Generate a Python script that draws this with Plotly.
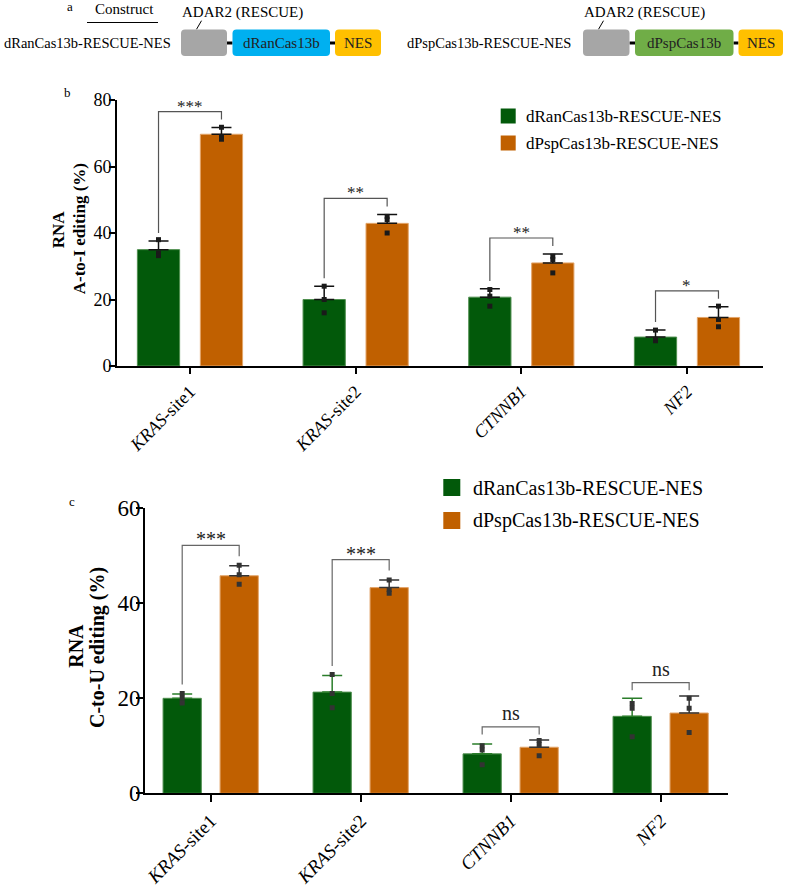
import plotly.graph_objects as go
import numpy as np

W, H = 787, 886
FONT = "Liberation Serif, Times New Roman, Times, serif"

# ---------------- data ----------------
categories = ["KRAS-site1", "KRAS-site2", "CTNNB1", "NF2"]
tick_labels = ["<i>KRAS</i>-site1", "<i>KRAS</i>-site2", "<i>CTNNB1</i>", "<i>NF2</i>"]
series_names = ["dRanCas13b-RESCUE-NES", "dPspCas13b-RESCUE-NES"]
cas_names = ["dRanCas13b", "dPspCas13b"]

# panel b : A-to-I editing (%)
b_ran_mean = [35.0, 20.0, 20.7, 8.7]
b_ran_sd = [2.6, 4.0, 2.5, 2.1]
b_ran_pts = [[38.0, 34.0, 33.2], [24.0, 20.0, 16.0], [23.0, 21.0, 18.0], [10.8, 8.0, 7.6]]
b_psp_mean = [69.7, 42.9, 31.0, 14.6]
b_psp_sd = [2.0, 2.7, 2.7, 3.2]
b_psp_pts = [[71.8, 69.0, 68.2], [45.0, 44.0, 40.0], [33.0, 32.0, 28.0], [18.0, 14.0, 11.8]]
b_sig = ["***", "**", "**", "*"]
b_yticks = [0, 20, 40, 60, 80]

# panel c : C-to-U editing (%)
c_ran_mean = [20.0, 21.3, 8.3, 16.2]
c_ran_sd = [0.9, 3.5, 2.1, 3.8]
c_ran_pts = [[21.0, 20.0, 19.0], [25.0, 21.0, 18.0], [10.0, 9.1, 6.0], [18.9, 17.9, 11.9]]
c_psp_mean = [45.8, 43.3, 9.7, 16.9]
c_psp_sd = [2.1, 1.6, 1.5, 3.6]
c_psp_pts = [[48.0, 46.0, 44.0], [44.9, 42.9, 42.1], [11.1, 10.2, 7.9], [20.0, 17.9, 12.8]]
c_sig = ["***", "***", "ns", "ns"]
c_yticks = [0, 20, 40, 60]

# ---------------- style ----------------
GREEN = "#02590a"
ORANGE = "#c06000"
GREEN_EDGE = "#4f8f4f"
ORANGE_EDGE = "#e3a56a"
OFF = 0.19
BW = 0.255


def px(x):
    return x / W


def py(y):
    return 1 - y / H


fig = go.Figure()
idx = np.arange(len(categories))
shapes = []
annotations = []


def add_panel(xa, ya, ran_mean, ran_sd, ran_pts, psp_mean, psp_sd, psp_pts, sig,
              err_cols, pt_col, br_col, gap, rise, gap_ns, rise_ns, sig_size, star_shift, ns_shift):
    for k, (mean, sd, pts, col, edge, ec, off) in enumerate([
        (ran_mean, ran_sd, ran_pts, GREEN, GREEN_EDGE, err_cols[0], -OFF),
        (psp_mean, psp_sd, psp_pts, ORANGE, ORANGE_EDGE, err_cols[1], OFF),
    ]):
        fig.add_trace(go.Bar(
            x=idx + off, y=mean, width=BW, name=series_names[k],
            marker=dict(color=col, line=dict(color=edge, width=1)),
            error_y=dict(type="data", symmetric=False, array=sd, arrayminus=[0] * len(sd),
                         color=ec, thickness=1.5, width=10),
            xaxis=xa, yaxis=ya, showlegend=False, hoverinfo="skip"))
        xs = np.repeat(idx + off, [len(p) for p in pts])
        ys = [v for p in pts for v in p]
        fig.add_trace(go.Scatter(
            x=xs, y=ys, mode="markers",
            marker=dict(symbol="square", size=5, color=pt_col),
            xaxis=xa, yaxis=ya, showlegend=False, hoverinfo="skip"))
    # significance brackets
    for i, s in enumerate(sig):
        rt = ran_mean[i] + ran_sd[i]
        pt = psp_mean[i] + psp_sd[i]
        if s == "ns":
            yl = yr = max(rt, pt) + gap_ns
            top = yl + rise_ns
            shift = ns_shift
        else:
            yl = rt + gap
            yr = pt + gap
            top = max(yl, yr) + rise
            shift = star_shift
        xl, xr = i - OFF, i + OFF
        shapes.append(dict(type="path", xref=xa, yref=ya,
                           path=f"M{xl},{yl} L{xl},{top} L{xr},{top} L{xr},{yr}",
                           line=dict(color=br_col, width=1.2)))
        annotations.append(dict(x=i, y=top, xref=xa, yref=ya, text=s, showarrow=False,
                                xanchor="center", yanchor="bottom", yshift=shift,
                                font=dict(family=FONT, size=sig_size, color="#222")))


add_panel("x", "y", b_ran_mean, b_ran_sd, b_ran_pts, b_psp_mean, b_psp_sd, b_psp_pts, b_sig,
          ["#111", "#111"], "#1a1a1a", "#555", 2.4, 2.4, 1.2, 1.6, 17, -6, 0)
add_panel("x2", "y2", c_ran_mean, c_ran_sd, c_ran_pts, c_psp_mean, c_psp_sd, c_psp_pts, c_sig,
          ["#2a7d2a", "#333"], "#333", "#666", 2.0, 2.3, 1.2, 1.6, 20, -7, 1)

axis_common = dict(showline=True, linecolor="black", linewidth=2, ticks="outside",
                   tickcolor="black", tickwidth=2, showgrid=False, zeroline=False,
                   automargin=False)

fig.update_layout(
    width=W, height=H, margin=dict(l=0, r=0, t=0, b=0, pad=0, autoexpand=False),
    autosize=False,
    paper_bgcolor="white", plot_bgcolor="white",
    font=dict(family=FONT, color="black"),
    barmode="overlay",
    xaxis=dict(domain=[px(117), px(763)], range=[-0.4406, 3.4588], anchor="y",
               tickvals=list(idx), ticktext=tick_labels, tickangle=-45, ticklen=6,
               tickfont=dict(family=FONT, size=18, color="black"), **axis_common),
    yaxis=dict(domain=[py(366), py(100)], range=[0, 80], anchor="x",
               tickvals=b_yticks, ticklen=6, ticklabelstandoff=-6,
               tickfont=dict(family=FONT, size=18, color="black"), **axis_common),
    xaxis2=dict(domain=[px(145), px(728)], range=[-0.438, 3.449], anchor="y2",
                tickvals=list(idx), ticktext=tick_labels, tickangle=-45, ticklen=7,
                tickfont=dict(family=FONT, size=19, color="black"), **axis_common),
    yaxis2=dict(domain=[py(793.3), py(508.3)], range=[0, 60], anchor="x2",
                tickvals=c_yticks, ticklen=7, ticklabelstandoff=-9,
                tickfont=dict(family=FONT, size=23, color="black"), **axis_common),
)


def ann(x, y, text, size, xanchor="center", yanchor="middle", angle=0, color="black"):
    annotations.append(dict(x=px(x), y=py(y), xref="paper", yref="paper", text=text,
                            showarrow=False, xanchor=xanchor, yanchor=yanchor,
                            textangle=angle, font=dict(family=FONT, size=size, color=color)))


def line(x0, y0, x1, y1, width=1, color="black"):
    shapes.append(dict(type="line", xref="paper", yref="paper", x0=px(x0), y0=py(y0),
                       x1=px(x1), y1=py(y1), line=dict(color=color, width=width)))


def rrect(x0, y0, x1, y1, color, r=4):
    X = lambda v: px(v)
    Y = lambda v: py(v)
    path = (f"M{X(x0 + r)},{Y(y0)} L{X(x1 - r)},{Y(y0)} Q{X(x1)},{Y(y0)} {X(x1)},{Y(y0 + r)} "
            f"L{X(x1)},{Y(y1 - r)} Q{X(x1)},{Y(y1)} {X(x1 - r)},{Y(y1)} "
            f"L{X(x0 + r)},{Y(y1)} Q{X(x0)},{Y(y1)} {X(x0)},{Y(y1 - r)} "
            f"L{X(x0)},{Y(y0 + r)} Q{X(x0)},{Y(y0)} {X(x0 + r)},{Y(y0)} Z")
    shapes.append(dict(type="path", xref="paper", yref="paper", path=path,
                       fillcolor=color, line=dict(width=0)))


# ---------------- panel a : constructs ----------------
ann(70, 6, "a", 13)
ann(124.5, 9, "Construct", 15)
line(87, 22.5, 158, 22.5, 1)

construct_geom = [
    # label right edge, gray box, cas box, nes box, cas color
    (173, (181, 227), (232.5, 330), (335, 381), "#00b0f0"),
    (573, (583, 629.5), (635, 733.5), (738.5, 783), "#70ad47"),
]
BY0, BY1, BYC = 29.5, 56, 43
for k, (lx, g, c, n, ccol) in enumerate(construct_geom):
    ann(lx, BYC, series_names[k], 14.5, xanchor="right")
    ann(g[0] - 1, 12, "ADAR2 (RESCUE)", 15, xanchor="left")
    line(g[0] + 20.5, 20.7, g[0] + 15.5, 29.3, 1)
    line(g[1], BYC, c[0], BYC, 3)
    line(c[1], BYC, n[0], BYC, 3)
    rrect(g[0], BY0, g[1], BY1, "#a6a6a6")
    rrect(c[0], BY0, c[1], BY1, ccol)
    rrect(n[0], BY0, n[1], BY1, "#ffc000")
    ann((c[0] + c[1]) / 2, BYC, cas_names[k], 15, color="#222")
    ann((n[0] + n[1]) / 2, BYC, "NES", 15, color="#222")

# ---------------- panel labels & y titles ----------------
ann(67, 92, "b", 13)
ann(72, 501, "c", 13)
ann(58.3, 229, "<b>RNA</b>", 17, angle=-90)
ann(79.3, 229, "<b>A-to-I editing (%)</b>", 17, angle=-90)
ann(75.8, 646, "<b>RNA</b>", 20, angle=-90)
ann(97.5, 647.5, "<b>C-to-U editing (%)</b>", 20, angle=-90)

# ---------------- legends ----------------
legend_geom = [
    # square x0, square size, text x, first row center y, row step, font size
    (500.7, 15, 524, 116, 27, 17),
    (443.3, 17, 470.7, 487.5, 33, 20),
]
for (sx, ss, tx, y0, step, fs) in legend_geom:
    for k, col in enumerate([GREEN, ORANGE]):
        yc = y0 + k * step
        shapes.append(dict(type="rect", xref="paper", yref="paper",
                           x0=px(sx), x1=px(sx + ss), y0=py(yc + ss / 2), y1=py(yc - ss / 2),
                           fillcolor=col, line=dict(width=0)))
        ann(tx, yc, series_names[k], fs, xanchor="left")

fig.update_layout(shapes=shapes, annotations=annotations)
fig.write_html("out.html", config={"displayModeBar": False},
               post_script="document.body.style.margin='0';document.body.style.overflow='hidden';")
